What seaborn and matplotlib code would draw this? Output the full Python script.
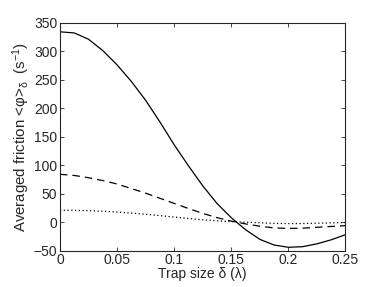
import numpy as np
import pandas as pd
import matplotlib
matplotlib.use('Agg')
import matplotlib.pyplot as plt
import seaborn as sns

# Trap size delta (lambda)
delta = [0, 0.0125, 0.025, 0.0375, 0.05, 0.0625, 0.075, 0.0875, 0.1, 0.1125, 0.125,
         0.1375, 0.15, 0.1625, 0.175, 0.1875, 0.2, 0.2125, 0.225, 0.2375, 0.25]

# Averaged friction (s^-1)
friction_solid = [334, 332, 321, 301, 276, 247, 214, 176, 136, 99, 64,
                  33, 8, -13, -30, -40, -44, -43, -38, -31, -22]
friction_dashed = [84, 82, 78, 73, 67, 59, 51, 42, 33, 24, 15.5,
                   8, 2, -3, -7, -10, -11, -10.5, -9, -7.5, -6]
friction_dotted = [21, 20.8, 20.2, 19.2, 17.8, 16, 14, 11.5, 9, 6.5, 4.2,
                   2.5, 1, 0, -1, -2, -2.5, -2.3, -1.8, -1.2, -0.6]

xticks = [0, 0.05, 0.1, 0.15, 0.2, 0.25]
xticklabels = ['0', '0.05', '0.1', '0.15', '0.2', '0.25']
yticks = [-50, 0, 50, 100, 150, 200, 250, 300, 350]

sns.set_style('ticks')
plt.rcParams['font.family'] = ['Liberation Sans', 'DejaVu Sans']
plt.rcParams['mathtext.fontset'] = 'custom'
plt.rcParams['mathtext.rm'] = 'Liberation Sans'
plt.rcParams['mathtext.it'] = 'Liberation Sans'
plt.rcParams['mathtext.default'] = 'regular'

df = pd.DataFrame({'delta': delta, 'solid': friction_solid,
                   'dashed': friction_dashed, 'dotted': friction_dotted})

fig = plt.figure(figsize=(3.82, 2.87), dpi=100)
ax = fig.add_axes([0.157, 0.1265, 0.747, 0.7945])

sns.lineplot(data=df, x='delta', y='solid', ax=ax, color='black', lw=0.9)
sns.lineplot(data=df, x='delta', y='dashed', ax=ax, color='black', lw=0.9,
             linestyle=(0, (6, 4)))
sns.lineplot(data=df, x='delta', y='dotted', ax=ax, color='black', lw=0.9,
             linestyle=(0, (1, 2)))

ax.set_xlim(0, 0.25)
ax.set_ylim(-50, 350)
ax.set_xticks(xticks)
ax.set_xticklabels(xticklabels)
ax.set_yticks(yticks)
ax.tick_params(direction='in', length=3, width=0.6, labelsize=10,
               top=True, right=True, pad=2)
for s in ax.spines.values():
    s.set_linewidth(0.8)
    s.set_visible(True)

ax.set_xlabel('Trap size δ (λ)', fontsize=10, labelpad=0)
ax.set_ylabel('Averaged friction <φ>$_δ$  (s$^{-1}$)', fontsize=10.8, labelpad=1)

fig.savefig('out.png', dpi=100)
